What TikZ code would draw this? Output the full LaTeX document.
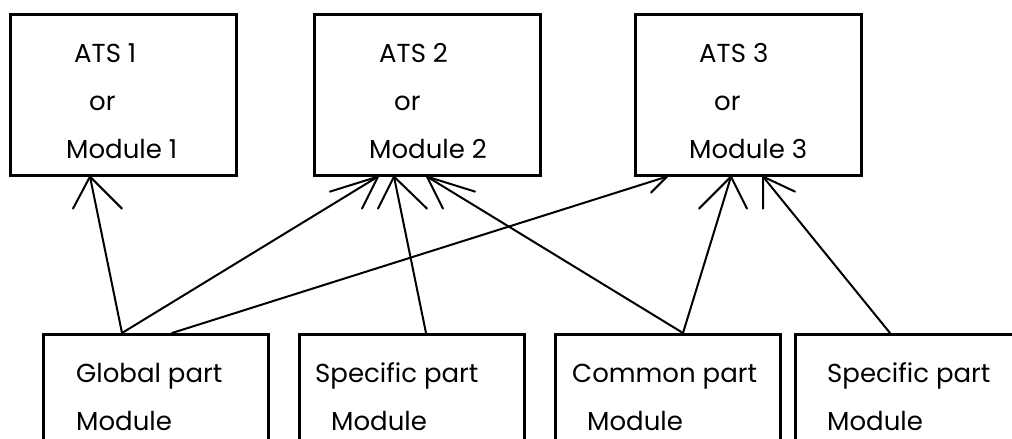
\documentclass[tikz,border=0pt]{standalone}
\usepackage{fontspec}
\setmainfont{Poppins}
\usetikzlibrary{calc}
\begin{document}
\begin{tikzpicture}[x=1pt,y=-1pt,
  box/.style={draw,line width=2.6pt,inner sep=0pt,anchor=north west},
  topbox/.style={box,minimum width=226pt,minimum height=161pt},
  lowbox/.style={box,minimum width=225pt,minimum height=150pt},
  label/.style={inner sep=0pt,anchor=base west,font=\fontsize{26}{31}\selectfont},
  link/.style={line width=2pt,line cap=round,line join=round}]
\useasboundingbox (0,0) rectangle (1012,439);
\clip (0,0) rectangle (1012,439);

% upper row
\node[topbox] (ats1) at (9,13) {};
\node[topbox] (ats2) at (313,13) {};
\node[topbox] (ats3) at (634,13) {};
\node[label] (ats1a) at (74,62) {ATS 1};
\node[label] (ats1b) at (89,110) {or};
\node[label] (ats1c) at (66,158) {Module 1};
\node[label] (ats2a) at (379,62) {ATS 2};
\node[label] (ats2b) at (394,110) {or};
\node[label] (ats2c) at (369,158) {Module 2};
\node[label] (ats3a) at (699,62) {ATS 3};
\node[label] (ats3b) at (714,110) {or};
\node[label] (ats3c) at (689,158) {Module 3};

% lower row
\node[lowbox] (glob) at (42,333) {};
\node[lowbox] (spec1) at (298,333) {};
\node[lowbox] (comm) at (554,333) {};
\node[lowbox,minimum width=240pt] (spec2) at (794,333) {};
\node[label] (globa) at (76,382) {Global part};
\node[label] (globb) at (76,430) {Module};
\node[label] (spec1a) at (315,382) {Specific part};
\node[label] (spec1b) at (331,430) {Module};
\node[label] (comma) at (572,382) {Common part};
\node[label] (commb) at (587,430) {Module};
\node[label] (spec2a) at (827,382) {Specific part};
\node[label] (spec2b) at (827,430) {Module};

% connector ends on the boxes
\coordinate (g1) at ($(glob.north west)+(80,0)$);
\coordinate (g2) at ($(glob.north west)+(130,0)$);
\coordinate (s1) at ($(spec1.north west)+(128,0)$);
\coordinate (c1) at ($(comm.north west)+(129,0)$);
\coordinate (s2) at ($(spec2.north west)+(96,0)$);
\coordinate (t11) at ($(ats1.south west)+(81,0)$);
\coordinate (t21) at ($(ats2.south west)+(65,0)$);
\coordinate (t22) at ($(ats2.south west)+(81,0)$);
\coordinate (t23) at ($(ats2.south west)+(114,0)$);
\coordinate (t31) at ($(ats3.south west)+(33,0)$);
\coordinate (t32) at ($(ats3.south west)+(97,0)$);
\coordinate (t33) at ($(ats3.south west)+(129,0)$);

% shafts
\draw[link] (g1) -- (t11);
\draw[link] (g1) -- (t21);
\draw[link] (g2) -- (t31);
\draw[link] (s1) -- (t22);
\draw[link] (c1) -- (t23);
\draw[link] (c1) -- (t32);
\draw[link] (s2) -- (t33);

% open arrowheads
\draw[link] (t11) ++(-17,32) -- (t11) -- ++(32,32);
\draw[link] (t21) ++(-48,15) -- (t21) -- ++(-16,32);
\draw[link] (t31) -- ++(-16,16);
\draw[link] (t22) ++(-16,32) -- (t22) -- ++(33,32);
\draw[link] (t23) ++(16,32) -- (t23) -- ++(48,15);
\draw[link] (t32) ++(-32,32) -- (t32) -- ++(16,32);
\draw[link] (t33) ++(0,32) -- (t33) -- ++(32,15);
\end{tikzpicture}
\end{document}
